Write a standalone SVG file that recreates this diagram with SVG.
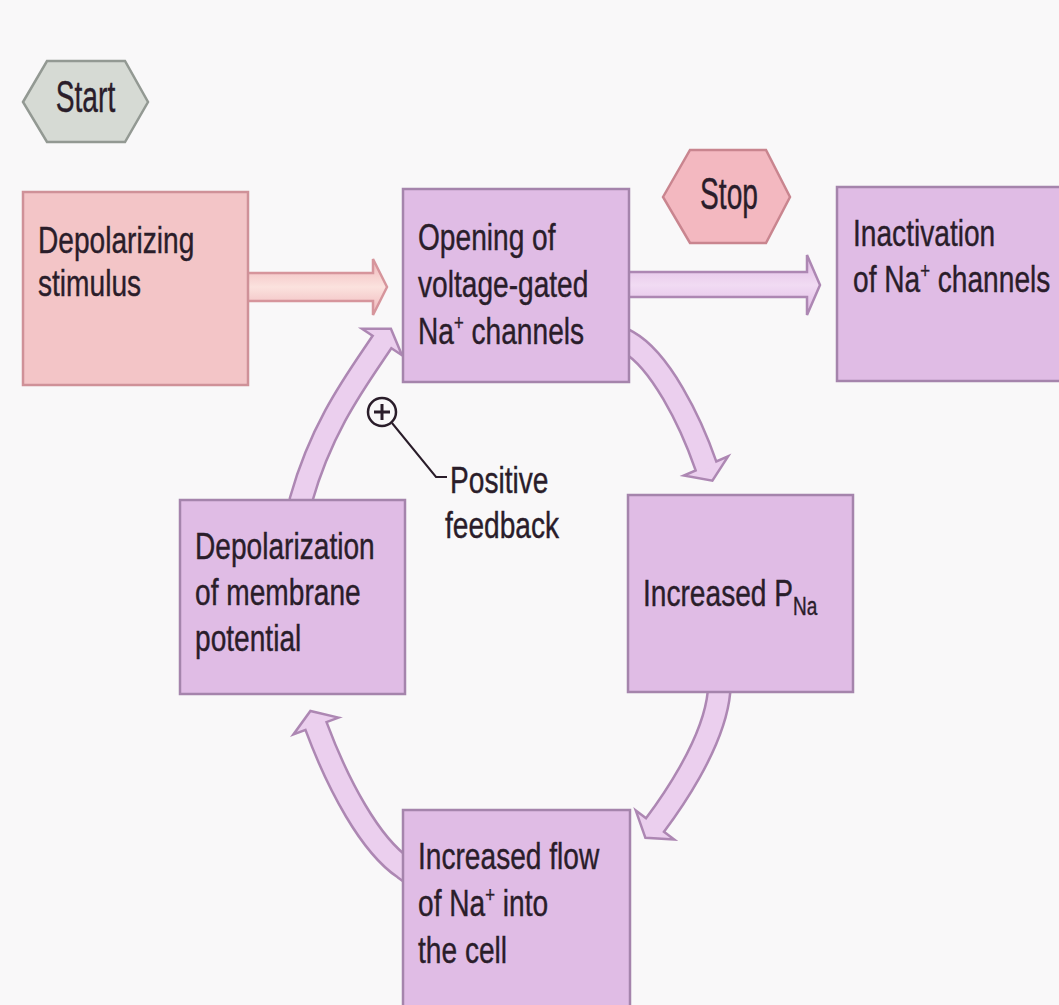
<svg xmlns="http://www.w3.org/2000/svg" width="1059" height="1005" viewBox="0 0 1059 1005">
<defs>
<style>
.t{font-family:"Liberation Sans",Arial,sans-serif;font-size:37px;fill:#2a1d2a;stroke:#2a1d2a;stroke-width:0.4}
.hx{font-size:44px;text-anchor:middle}
.box{fill:#e0bce5;stroke:#a584ac;stroke-width:2.5}
.pbox{fill:#f3c5c7;stroke:#cf9198;stroke-width:2.5}
.so{fill:none;stroke:#ad87b3;stroke-width:25}
.si{fill:none;stroke:#ebcfee;stroke-width:20}
.hd{fill:#ebcfee;stroke:#ad87b3;stroke-width:2.5;stroke-linejoin:miter}
</style>
<linearGradient id="gp" x1="0" y1="0" x2="0" y2="1">
<stop offset="0" stop-color="#efb5b9"/><stop offset="0.5" stop-color="#fbe2de"/><stop offset="1" stop-color="#efb5b9"/>
</linearGradient>
<linearGradient id="gl" x1="0" y1="0" x2="0" y2="1">
<stop offset="0" stop-color="#dfb9e4"/><stop offset="0.5" stop-color="#f1dbf3"/><stop offset="1" stop-color="#dfb9e4"/>
</linearGradient>
</defs>
<rect width="1059" height="1005" fill="#f9f8f9"/>

<g id="connectors">
<polygon points="240,273 373,273 373,259 387,287 373,315 373,301 240,301" fill="url(#gp)" stroke="#d6959c" stroke-width="2.5"/>
<polygon points="622,272 807,272 807,255 820,285 807,315 807,297 622,297" fill="url(#gl)" stroke="#ad87b3" stroke-width="2.5"/>
<g id="arrowA">
<path class="so" d="M612,333 L628,342 C660,360 690,420 706,466"/>
<polygon class="hd" points="728.1,456.4 712.4,480.7 683.9,475.6"/>
<path class="si" d="M612,333 L628,342 C660,360 690,420 706,466 l1,2.8"/>
</g>
<g id="arrowB">
<path class="so" d="M720,680 L719,692 C714,745 667,809 655,825"/>
<polygon class="hd" points="674.2,839.4 645.4,837.8 635.8,810.6"/>
<path class="si" d="M720,680 L719,692 C714,745 667,809 655,825 l-1.8,2.4"/>
</g>
<g id="arrowC">
<path class="so" d="M418,878 L404,868 C370,845 338,785 316,726"/>
<polygon class="hd" points="338.6,717.6 310.4,711 293.4,734.4"/>
<path class="si" d="M418,878 L404,868 C370,845 338,785 316,726 l-1,-2.8"/>
</g>
<g id="arrowD">
<path class="so" d="M299,512 L301,500 C322,425 358,378 382,342"/>
<polygon class="hd" points="402,355.3 390.9,328.7 362,328.7"/>
<path class="si" d="M299,512 L301,500 C322,425 358,378 382,342 l1.7,-2.5"/>
</g>
</g>

<g id="start">
<polygon points="23,102 47,61 125,61 148,102 125,142 47,142" fill="#d6dad4" stroke="#939993" stroke-width="2.5"/>
<text class="t hx" transform="translate(85.5,112) scale(0.64,1)">Start</text>
</g>

<g id="stop">
<polygon points="663,197 690,150 766,150 790,197 766,243 690,243" fill="#f3b8c0" stroke="#c9858f" stroke-width="2.5"/>
<text class="t hx" transform="translate(729,209) scale(0.64,1)">Stop</text>
</g>

<g id="depolarizing-stimulus">
<rect class="pbox" x="23" y="192" width="225" height="193"/>
<text class="t" transform="translate(38,253) scale(0.76,1)"><tspan x="0" y="0">Depolarizing</tspan><tspan x="0" y="43">stimulus</tspan></text>
</g>

<g id="opening">
<rect class="box" x="403" y="189" width="226" height="193"/>
<text class="t" transform="translate(418,250) scale(0.76,1)"><tspan x="0" y="0">Opening of</tspan><tspan x="0" y="47">voltage-gated</tspan><tspan x="0" y="94">Na<tspan font-size="22" dy="-14">+</tspan><tspan dy="14"> channels</tspan></tspan></text>
</g>

<g id="inactivation">
<rect class="box" x="837" y="187" width="240" height="194"/>
<text class="t" transform="translate(853,246) scale(0.76,1)"><tspan x="0" y="0">Inactivation</tspan><tspan x="0" y="46">of Na<tspan font-size="22" dy="-14">+</tspan><tspan dy="14"> channels</tspan></tspan></text>
</g>

<g id="increased-pna">
<rect class="box" x="628" y="495" width="225" height="197"/>
<text class="t" transform="translate(643,606) scale(0.76,1)">Increased P<tspan font-size="25" dy="9">Na</tspan></text>
</g>

<g id="increased-flow">
<rect class="box" x="403" y="810" width="227" height="215"/>
<text class="t" transform="translate(418,869) scale(0.76,1)"><tspan x="0" y="0">Increased flow</tspan><tspan x="0" y="47">of Na<tspan font-size="22" dy="-14">+</tspan><tspan dy="14"> into</tspan></tspan><tspan x="0" y="94">the cell</tspan></text>
</g>

<g id="depolarization">
<rect class="box" x="180" y="500" width="225" height="194"/>
<text class="t" transform="translate(195,559) scale(0.76,1)"><tspan x="0" y="0">Depolarization</tspan><tspan x="0" y="46">of membrane</tspan><tspan x="0" y="92">potential</tspan></text>
</g>

<g id="positive-feedback">
<circle cx="382" cy="412" r="14" fill="#f9f8f9" stroke="#2a1d2a" stroke-width="2.5"/>
<path d="M382,404 V420 M374,412 H390" stroke="#2a1d2a" stroke-width="3" fill="none"/>
<path d="M392,423 L436,477 L447,477" stroke="#2a1d2a" stroke-width="2" fill="none"/>
<text class="t" transform="translate(450,493) scale(0.76,1)">Positive</text>
<text class="t" transform="translate(445,538) scale(0.76,1)">feedback</text>
</g>
</svg>
